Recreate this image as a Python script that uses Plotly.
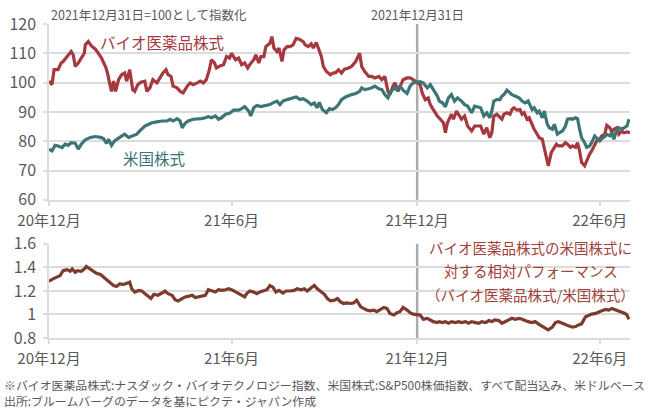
import pandas as pd
import plotly.graph_objects as go

# 2021-12-31 = 100, days counted from 2020-12-31
start = pd.Timestamp("2020-12-31")

bio_day = [0, 3, 5, 9, 12, 14, 18, 20, 22, 24, 26, 29, 32, 35, 36, 39, 42, 46, 49, 52,
           56, 58, 60, 62, 64, 66, 69, 72, 75, 77, 80, 83, 85, 88, 91, 95, 97, 100, 103, 107,
           110, 113, 116, 118, 121, 123, 127, 130, 133, 137, 140, 143,
           147, 150, 153, 156, 159, 161, 164, 166, 170, 173, 176, 179, 181, 185, 188, 191, 194, 197,
           199, 203, 205, 208, 210, 213, 215, 219, 221, 223, 226, 228, 231, 233, 236, 239, 242, 245,
           248, 252, 254, 257, 260, 262, 265, 267, 270, 272, 275, 279, 282,
           284, 287, 290, 293, 297, 300, 304, 306, 308, 310, 313, 317, 320, 323, 327, 330, 333, 336,
           338, 341, 343, 346, 348, 351, 355, 358, 361, 365, 368, 370, 373, 376, 378, 381, 385, 388,
           391, 393, 395, 399, 401, 404, 407, 409, 412, 415, 419, 422,
           428, 431, 434, 437, 439, 441, 444, 447, 449, 451, 454, 457, 459, 461, 464, 467, 469, 471,
           474, 476, 479, 481, 484, 486, 489, 491, 493, 495, 498, 500, 503, 505, 509, 512, 514, 517,
           519, 522, 524, 526, 528, 531, 533, 536, 538, 541, 543, 546, 548, 551, 553, 556, 558, 560,
           563, 565, 568, 570, 573, 576]
bio_val = [100.5, 99.3, 104.4, 104.4, 106.7, 107.2, 108.9, 110, 110.6, 109.5, 105.5, 106.7, 108.4,
           110, 112.9, 114, 112.5, 111.4, 110, 108.4, 105.5, 103.3, 99.9, 97, 100.5, 97, 101, 102.7,
           103.3, 100.5, 104.4, 97.6, 97, 99.3, 100.1, 100.5, 97, 98.2, 101, 99.9, 101.6, 103.3,
           104.4, 102.7, 102.1, 98.8, 98.2, 97, 96.5, 98.8, 99.9, 99.3,
           99.9, 100.5, 99.9, 101, 104.4, 107.8, 106.7, 105, 105.8, 106.1, 108.9, 108.4, 110, 107.8,
           108.4, 106.1, 106.7, 105, 106.1, 107.8, 109.5, 106.7, 108.9, 108.9, 112.3, 113.4, 115.7,
           111.8, 110.6, 111.8, 107.2, 111.2, 112.3, 112.3, 112.9, 115.1, 114.8, 114, 112.9, 112.3,
           113.2, 111.8, 113.7, 111.8, 108.9, 105.5, 103.8, 102.7, 103.3,
           103.3, 104.4, 103.3, 104.6, 105, 105.5, 107.2, 108.4, 110, 105.5, 103.8, 102.1, 102.1,
           101.6, 102.1, 101, 102.1, 97, 95.9, 98.8, 99.9, 97, 98.8, 101, 101.6, 101.6, 101, 100,
           99.3, 96.5, 94.2, 94.8, 92.5, 90.8, 88.6, 87.5, 86.3, 82.9, 86.3, 89.2, 87.5, 90.3, 88.6,
           87.5, 88.6, 85.2, 83.5, 85.2,
           85.2, 82.4, 84.6, 81.2, 82.9, 88.6, 89.2, 88, 87.5, 89.2, 89.7, 89.2, 90.8, 91.4, 90.6,
           90.8, 89.2, 89.7, 87.5, 88, 85.2, 84.1, 82.4, 81.2, 80.7, 77.9, 75, 71.6, 76.2, 77.3, 79,
           78.4, 78.4, 79.5, 79, 77.9, 78.4, 77.9, 79.5, 76.7, 72.8, 71.6, 73.3, 75.6, 76.7, 79,
           80.1, 80.7, 81.8, 82.4, 85.4, 84.6, 83.2, 84.1, 84.6, 82.4, 83.5, 82.9, 83.2, 82.9]

us_day = [0, 3, 6, 9, 13, 16, 19, 22, 26, 29, 32, 36, 41, 46, 51, 54, 57, 59, 62, 65,
          70, 75, 79, 83, 87, 90, 95, 99, 102, 107, 112, 117, 120, 123, 127, 130, 132, 135, 138, 143,
          147, 151, 155, 158, 161, 165, 168, 171, 175, 179, 183, 188, 191, 194, 198, 200, 203, 206,
          210, 214, 219, 222, 226, 229, 232, 236, 241, 245, 249, 252, 256, 260, 263, 266, 268, 271,
          275, 278, 281,
          284, 287, 290, 294, 297, 300, 304, 308, 310, 313, 317, 320, 323, 327, 330, 333, 336, 338,
          342, 345, 348, 351, 355, 358, 361, 365, 368, 371, 375, 378, 381, 385, 387, 390, 393, 396,
          399, 402, 405, 409, 412, 415, 419, 422,
          428, 431, 434, 437, 439, 441, 444, 447, 449, 451, 454, 457, 459, 462, 466, 469, 472, 475,
          479, 481, 484, 486, 489, 491, 494, 496, 499, 501, 504, 506, 509, 512, 514, 517, 519, 522,
          524, 526, 528, 531, 533, 536, 538, 541, 543, 546, 548, 551, 553, 556, 558, 560, 563, 565,
          568, 570, 573, 575]
us_val = [77.3, 76.7, 78.6, 78.4, 77.8, 79, 78.6, 79.5, 79.3, 77.3, 79, 80.5, 81.3, 81.6, 81.3,
          80.9, 79.3, 80.7, 78.6, 80.1, 81.3, 82.4, 81.3, 81.8, 82.4, 83.5, 85.2, 85.8, 86.3, 86.6,
          86.9, 86.9, 87.5, 86.9, 87.7, 86.9, 84.6, 86.1, 86.9, 87.5,
          87.5, 87.7, 88, 88.4, 88, 88.6, 87.5, 88, 89.2, 89.5, 90.6, 90.6, 91.1, 91.8, 90.3, 88.6,
          91.4, 92.2, 91.8, 92.2, 92.5, 93.1, 93.7, 92.5, 93.7, 94.2, 94.8, 95.1, 94.2, 94.5, 93.7,
          92.5, 93.1, 91.4, 93.3, 90.8, 89.7, 91.1, 90.8,
          91.4, 92.5, 94.2, 95.1, 95.6, 95.9, 96.3, 97, 98.2, 97.6, 97.9, 98.2, 98.8, 97.9, 97.6,
          95.9, 94.8, 96.5, 98.2, 97.6, 98.8, 97.4, 96.3, 98.8, 99.9, 100, 100.3, 99.9, 98.2, 99.3,
          97.6, 95.4, 93.7, 93.1, 91.8, 94.8, 95.9, 93.7, 94.8, 93.7, 92.5, 92, 89.7, 92,
          91.4, 88.6, 89.7, 88, 90.3, 93.7, 94.2, 94.2, 95.4, 95.9, 97.4, 96.3, 95.9, 95.4, 94.8,
          93.7, 93.1, 93.7, 90.8, 91.4, 89.7, 90.3, 88, 90.3, 85.8, 84.6, 84.1, 85.8, 82.4, 82.9,
          83.5, 85.2, 87.5, 87.7, 87.5, 88, 87.7, 84.1, 81.2, 79.5, 77.9, 78.4, 79.5, 81.8, 81.2,
          80.1, 80.9, 81.6, 82.4, 81.8, 82.9, 80.7, 84.1, 84.6, 84.1, 84.6, 85.2, 87.5]

ratio_day = [0, 1, 4, 8, 11, 14, 18, 21, 23, 26, 28, 32, 35, 37, 41, 44, 47, 51, 54, 57,
             60, 64, 67, 70, 74, 77, 80, 82, 85, 89, 92, 95, 99, 101, 104, 108, 112, 115, 118, 122,
             125, 128, 132, 135, 138, 142, 145, 148, 151, 155, 158, 161, 165, 168, 171, 175, 178, 181,
             185, 188, 191, 194,
             196, 199, 203, 206, 209, 213, 216, 219, 222, 225, 228, 232, 235, 239, 243, 246, 250, 253,
             256, 260, 263, 266, 270, 273, 276, 279, 283, 286, 289, 292, 295, 299, 302, 305, 309, 312,
             315, 318, 322, 325, 328, 332, 335, 338, 342, 345, 348, 351, 355, 358, 361, 365, 368, 371,
             375, 378, 381, 385, 387,
             390, 393, 396, 399, 403, 406, 409, 413, 416, 419, 423, 426, 429, 433, 436, 439, 442, 446,
             449, 452, 456, 459, 462, 466, 469, 472, 475, 479, 482, 485, 489, 492, 495, 499, 502, 505,
             509, 512, 515, 519, 522, 525, 528, 532, 535, 538, 542, 545, 548, 552, 555, 558, 561, 565,
             568, 571, 573, 575]
ratio_val = [1.294, 1.288, 1.302, 1.316, 1.330, 1.372, 1.380, 1.366, 1.386, 1.358, 1.372, 1.366,
             1.386, 1.408, 1.386, 1.366, 1.350, 1.339, 1.316, 1.302, 1.274, 1.246, 1.238, 1.260,
             1.255, 1.266, 1.274, 1.218, 1.190, 1.204, 1.199, 1.177, 1.149, 1.135, 1.171, 1.163,
             1.182, 1.199, 1.177, 1.163, 1.126, 1.115, 1.135, 1.149, 1.154, 1.163, 1.143, 1.149,
             1.149, 1.163, 1.210, 1.204, 1.190, 1.210, 1.204, 1.210, 1.218, 1.210, 1.190, 1.182,
             1.163, 1.149,
             1.177, 1.199, 1.190, 1.177, 1.190, 1.204, 1.210, 1.246, 1.232, 1.190, 1.204, 1.182,
             1.199, 1.199, 1.204, 1.218, 1.210, 1.218, 1.199, 1.227, 1.246, 1.218, 1.190, 1.171,
             1.135, 1.115, 1.121, 1.135, 1.107, 1.093, 1.098, 1.093, 1.098, 1.121, 1.065, 1.051,
             1.037, 1.031, 1.037, 1.023, 1.042, 1.059, 1.051, 1.009, 0.995, 1.015, 1.023, 1.059,
             1.037, 1.015, 1.003, 1.0, 0.995, 0.959, 0.967, 0.953, 0.939, 0.931, 0.939,
             0.931, 0.939, 0.925, 0.939, 0.931, 0.939, 0.931, 0.939, 0.925, 0.939, 0.931, 0.925,
             0.939, 0.931, 0.948, 0.939, 0.953, 0.948, 0.925, 0.939, 0.953, 0.967, 0.959, 0.967,
             0.959, 0.948, 0.939, 0.931, 0.939, 0.920, 0.903, 0.883, 0.869, 0.892, 0.931, 0.939,
             0.925, 0.911, 0.903, 0.892, 0.897, 0.911, 0.920, 0.981, 0.995, 1.003, 1.009, 1.023,
             1.031, 1.042, 1.037, 1.051, 1.042, 1.023, 1.015, 1.009, 0.995, 0.959]

tick_dates = ["2020-12-31", "2021-06-30", "2021-12-31", "2022-06-30"]
tick_labels = ["20年12月", "21年6月", "21年12月", "22年6月"]
base_date = "2021-12-31"

JP = "Noto Sans CJK JP"
RED = "#A5393F"
TEAL = "#3C7576"
BROWN = "#7C3B2F"
GRID = "#DCDCDC"
TXT = "#595959"


def to_dates(days):
    return start + pd.to_timedelta(days, unit="D")


fig = go.Figure()
fig.add_trace(go.Scatter(x=to_dates(bio_day), y=bio_val, mode="lines",
                         line=dict(color=RED, width=3.2), xaxis="x", yaxis="y"))
fig.add_trace(go.Scatter(x=to_dates(us_day), y=us_val, mode="lines",
                         line=dict(color=TEAL, width=3.2), xaxis="x", yaxis="y"))
fig.add_trace(go.Scatter(x=to_dates(ratio_day), y=ratio_val, mode="lines",
                         line=dict(color=BROWN, width=3.2), xaxis="x2", yaxis="y2"))

xcommon = dict(range=["2020-12-31", "2022-07-30"], tickvals=tick_dates, ticktext=tick_labels,
               showgrid=False, showline=True, linecolor=GRID, linewidth=1.5, automargin=False,
               ticks="outside", ticklen=4, tickcolor=GRID, tickwidth=1.5, ticklabelstandoff=2,
               tickfont=dict(family=JP, size=15, color=TXT))
ycommon = dict(showgrid=True, gridcolor=GRID, gridwidth=1.5, showline=True, linecolor=GRID,
               linewidth=1.5, zeroline=False, automargin=False,
               ticks="outside", ticklen=4, tickcolor=GRID, tickwidth=1.5, ticklabelstandoff=4,
               tickfont=dict(family=JP, size=16, color=TXT))

fig.update_layout(
    width=651, height=410,
    margin=dict(l=49, r=21, t=24, b=72),
    paper_bgcolor="white", plot_bgcolor="white",
    showlegend=False,
    font=dict(family=JP, color=TXT),
    xaxis=dict(domain=[0, 1], anchor="y", **xcommon),
    yaxis=dict(domain=[0.44, 1], anchor="x", range=[60, 120], dtick=10, **ycommon),
    xaxis2=dict(domain=[0, 1], anchor="y2", **xcommon),
    yaxis2=dict(domain=[0, 0.3], anchor="x2", range=[0.8, 1.6], dtick=0.2, **ycommon),
)

# 2021-12-31 marker line in both panels
for xr, yr in (("x", "y domain"), ("x2", "y2 domain")):
    fig.add_shape(type="line", xref=xr, yref=yr, x0=base_date, x1=base_date, y0=0, y1=1,
                  line=dict(color="#ABABAB", width=2.5), layer="below")

fig.add_annotation(text="2021年12月31日=100として指数化", xref="paper", yref="paper",
                   x=0, y=1.0287, xanchor="left", yanchor="middle", showarrow=False,
                   font=dict(family=JP, size=12.5, color=TXT))
fig.add_annotation(text="2021年12月31日", xref="x", yref="paper", x=base_date, y=1.0287,
                   xanchor="center", yanchor="middle", showarrow=False,
                   font=dict(family=JP, size=12.5, color=TXT))
fig.add_annotation(text="バイオ医薬品株式", xref="x", yref="y", x="2021-04-22", y=113.9,
                   showarrow=False, font=dict(family=JP, size=15.5, color=RED))
fig.add_annotation(text="米国株式", xref="x", yref="y", x="2021-04-14", y=74.2,
                   showarrow=False, font=dict(family=JP, size=15.5, color=TEAL))

rel_lines = ["バイオ医薬品株式の米国株式に", "対する相対パフォーマンス", "（バイオ医薬品株式/米国株式）"]
for txt, yp in zip(rel_lines, [0.2898, 0.2134, 0.1401]):
    fig.add_annotation(text=txt, xref="paper", yref="paper", x=0.8296, y=yp,
                       xanchor="center", yanchor="middle", showarrow=False,
                       font=dict(family=JP, size=14.5, color="#A0413A"))

notes = ["※バイオ医薬品株式:ナスダック・バイオテクノロジー指数、米国株式:S&P500株価指数、すべて配当込み、米ドルベース",
         "出所:ブルームバーグのデータを基にピクテ・ジャパン作成"]
for txt, yp in zip(notes, [-0.1465, -0.1975]):
    fig.add_annotation(text=txt, xref="paper", yref="paper", x=-0.0809, y=yp,
                       xanchor="left", yanchor="middle", showarrow=False,
                       font=dict(family=JP, size=11.9, color=TXT))

fig.write_html("out.html", config={"displayModeBar": False},
               post_script="document.body.style.margin='0px';")
